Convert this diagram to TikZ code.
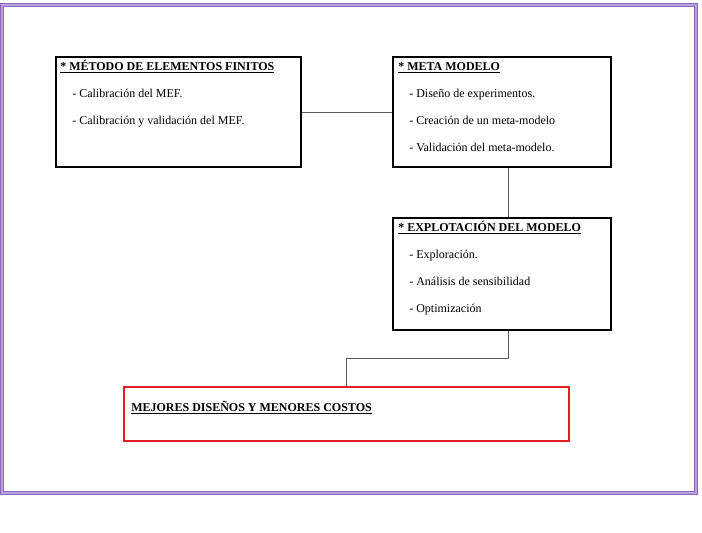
\documentclass[tikz,border=0pt]{standalone}
\usepackage{fontspec}
\setmainfont{Liberation Serif}
\definecolor{marcoLila}{RGB}{185,160,225}
\definecolor{marcoOscuro}{RGB}{140,105,190}
\definecolor{rojoCaja}{RGB}{230,30,35}
\tikzset{
  caja/.style={draw=black, line width=1.5pt, rectangle, inner sep=0pt},
  cajaRoja/.style={draw=rojoCaja, line width=1.5pt, rectangle, inner sep=0pt},
  titulo/.style={anchor=base west, inner sep=0pt, font=\fontsize{9}{11}\selectfont\bfseries},
  linea/.style={anchor=base west, inner sep=0pt},
  enlace/.style={draw=black!65, line width=0.7pt}
}
\begin{document}
\begin{tikzpicture}[x=0.75pt, y=-0.75pt, font=\fontsize{9}{11}\selectfont]
\useasboundingbox (0,0) rectangle (702,532);
% Marco exterior
\draw[draw=marcoOscuro, double=marcoLila, double distance=1.4pt, line width=0.5pt] (2,5) rectangle (696,493);

% Cajas
\node[caja, minimum width=183.75pt, minimum height=82.5pt] (mef) at (178,112) {};
\node[caja, minimum width=163.5pt, minimum height=82.5pt] (meta) at (502,112) {};
\node[caja, minimum width=163.5pt, minimum height=84pt] (expl) at (502,274) {};
\node[cajaRoja, minimum width=333.75pt, minimum height=40.5pt] (mejor) at (346.5,413.5) {};

% Textos: metodo de elementos finitos
\node[titulo] (tmef) at (60,70) {\underline{* MÉTODO DE ELEMENTOS FINITOS}};
\node[linea] (mef1) at (72,97) {- Calibración del MEF.};
\node[linea] (mef2) at (72,124) {- Calibración y validación del MEF.};

% Textos: meta modelo
\node[titulo] (tmeta) at (398,70) {\underline{* META MODELO}};
\node[linea] (meta1) at (409,97) {- Diseño de experimentos.};
\node[linea] (meta2) at (409,124) {- Creación de un meta-modelo};
\node[linea] (meta3) at (409,151) {- Validación del meta-modelo.};

% Textos: explotacion del modelo
\node[titulo] (texpl) at (398,231) {\underline{* EXPLOTACIÓN DEL MODELO}};
\node[linea] (expl1) at (409,258) {- Exploración.};
\node[linea] (expl2) at (409,285) {- Análisis de sensibilidad};
\node[linea] (expl3) at (409,312) {- Optimización};

% Resultado
\node[titulo] (tmejor) at (131,411) {\underline{MEJORES DISEÑOS Y MENORES COSTOS}};

% Conectores
\draw[enlace] (mef.east) -- (meta.west);
\draw[enlace] ([xshift=4.5pt]meta.south) -- ([xshift=4.5pt]expl.north);
\draw[enlace] ([xshift=4.5pt]expl.south) -- ++(0,27) -| (mejor.north);
\end{tikzpicture}
\end{document}
